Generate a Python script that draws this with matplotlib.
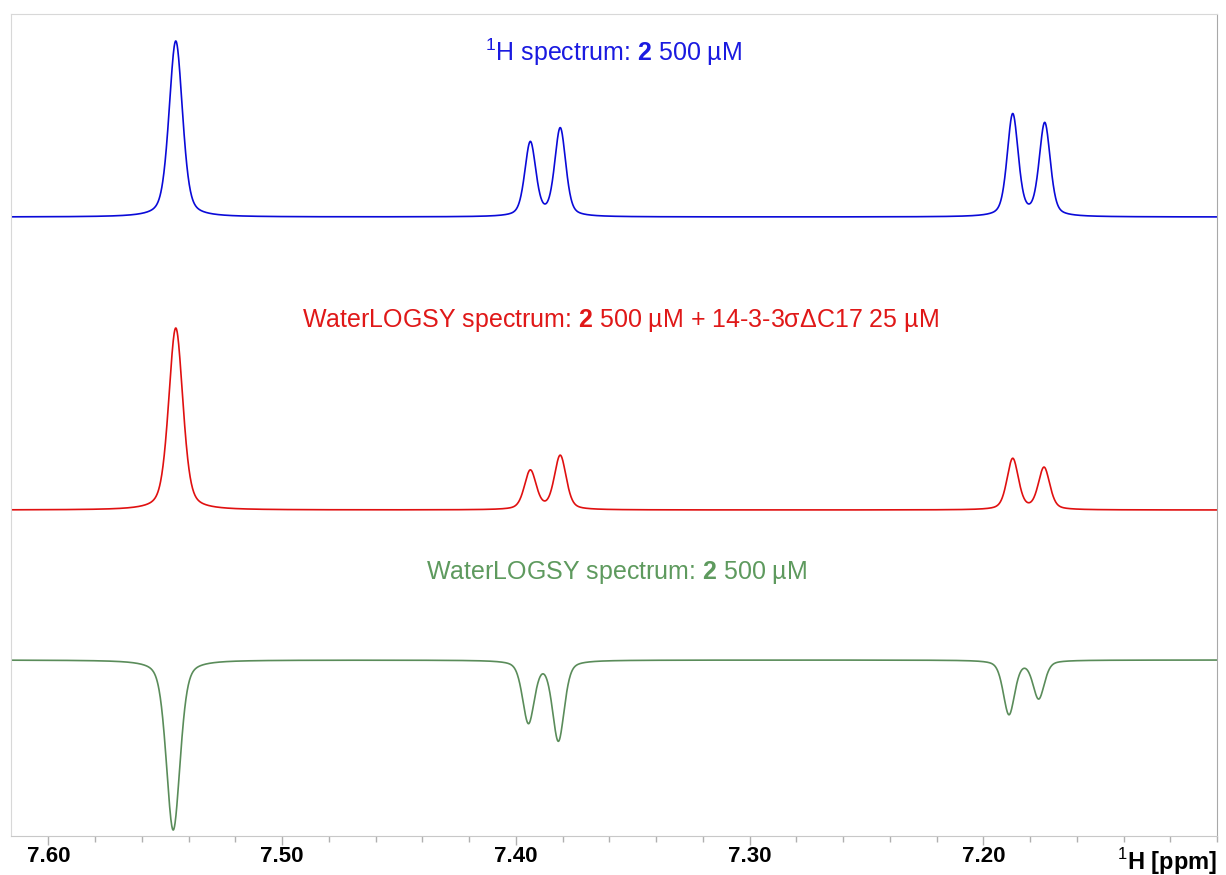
import numpy as np
import matplotlib
matplotlib.use("Agg")
import matplotlib.pyplot as plt
from matplotlib.ticker import FixedLocator, MultipleLocator

plt.rcParams["font.family"] = ["Liberation Sans", "DejaVu Sans"]
plt.rcParams["mathtext.fontset"] = "custom"
plt.rcParams["mathtext.rm"] = "Liberation Sans"
plt.rcParams["mathtext.bf"] = "Liberation Sans:bold"

# peak tables (ppm, intensity in a.u., FWHM in ppm)
h1_baseline = 619
h1_ppm = [7.5455, 7.3938, 7.3810, 7.1874, 7.1737]
h1_height = [176, 74, 88, 102, 93]
h1_fwhm = [0.0068, 0.0056, 0.0056, 0.0056, 0.0056]

wl_complex_baseline = 326
wl_complex_ppm = [7.5455, 7.3938, 7.3810, 7.1874, 7.1740]
wl_complex_height = [182, 39, 54, 51, 42]
wl_complex_fwhm = [0.0072, 0.0060, 0.0060, 0.0058, 0.0058]

wl_free_baseline = 176
wl_free_ppm = [7.5466, 7.3946, 7.3818, 7.1890, 7.1763]
wl_free_height = [-170, -62, -80, -54, -38]
wl_free_fwhm = [0.0070, 0.0060, 0.0060, 0.0058, 0.0058]

xlim = (7.616, 7.100)
major_ticks = [7.60, 7.50, 7.40, 7.30, 7.20]


def spectrum(ppm, centers, heights, widths, baseline, eta=0.4):
    y = np.full_like(ppm, float(baseline))
    for c, h, w in zip(centers, heights, widths):
        hw = w / 2.0
        lor = 1.0 / (1.0 + ((ppm - c) / hw) ** 2)
        gau = np.exp(-np.log(2) * ((ppm - c) / hw) ** 2)
        y += h * (eta * lor + (1 - eta) * gau)
    return y


ppm = np.linspace(xlim[0], xlim[1], 4000)

fig = plt.figure(figsize=(12.26, 8.75), dpi=100)
ax = fig.add_axes([11 / 1226, 1 - 836 / 875, 1206 / 1226, 822 / 875])

traces = [
    (h1_ppm, h1_height, h1_fwhm, h1_baseline, "#0a0ad8"),
    (wl_complex_ppm, wl_complex_height, wl_complex_fwhm, wl_complex_baseline, "#e01010"),
    (wl_free_ppm, wl_free_height, wl_free_fwhm, wl_free_baseline, "#5a8c5a"),
]
for centers, heights, widths, base, color in traces:
    ax.plot(ppm, spectrum(ppm, centers, heights, widths, base), color=color, lw=1.2)

ax.set_xlim(*xlim)
ax.set_ylim(0, 822)

ax.text(0.5, 1 - 38 / 822, r"$^{1}$H spectrum: $\mathbf{2}$ 500 µM", transform=ax.transAxes,
        ha="center", va="center", fontsize=18, color="#1a1ae0")
ax.text(0.505, 1 - 306 / 822, r"WaterLOGSY spectrum: $\mathbf{2}$ 500 µM + 14-3-3σΔC17 25 µM",
        transform=ax.transAxes, ha="center", va="center", fontsize=18, color="#e01818")
ax.text(0.502, 1 - 558 / 822, r"WaterLOGSY spectrum: $\mathbf{2}$ 500 µM", transform=ax.transAxes,
        ha="center", va="center", fontsize=18, color="#5e9a5e")

ax.xaxis.set_major_locator(FixedLocator(major_ticks))
ax.xaxis.set_minor_locator(MultipleLocator(0.02))
ax.set_xticklabels([f"{t:.2f}" for t in major_ticks], fontsize=16, fontweight="bold")
ax.tick_params(axis="x", which="major", length=6.5, width=1, color="#b0b0b0", pad=1)
ax.tick_params(axis="x", which="minor", length=4, width=1, color="#b0b0b0")
ax.set_yticks([])

ax.spines["left"].set_color("#d8d8d8")
ax.spines["top"].set_color("#d8d8d8")
ax.spines["bottom"].set_color("#c8c8c8")
ax.spines["right"].set_color("#a8a8a8")

ax.text(1.0, -10 / 822, r"$^{1}$H [ppm]", transform=ax.transAxes, ha="right", va="top",
        fontsize=17, fontweight="bold")

fig.savefig("out.png", dpi=100)
